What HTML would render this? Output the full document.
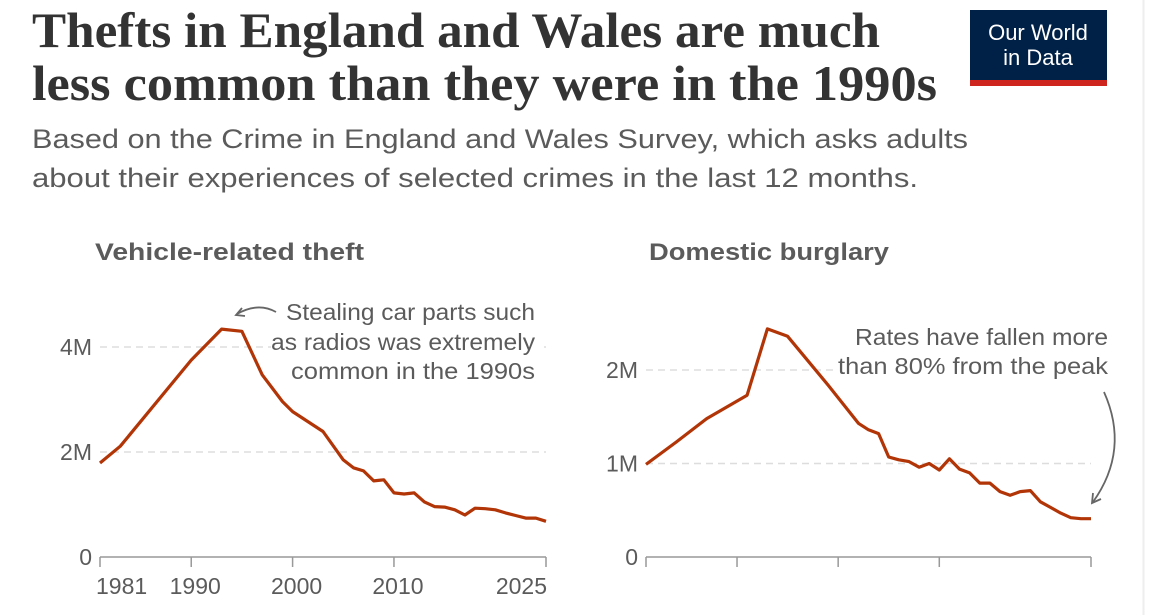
<!DOCTYPE html>
<html><head><meta charset="utf-8"><style>
body{margin:0;background:#fff;}
svg{display:block;font-family:"Liberation Sans",sans-serif;}
</style></head><body>
<svg width="1164" height="615" viewBox="0 0 1164 615">
<line x1="1143.5" y1="0" x2="1143.5" y2="615" stroke="#eeeeee" stroke-width="2"/>
<text x="32" y="47" font-family="Liberation Serif, serif" font-weight="bold" font-size="50" fill="#333" textLength="848" lengthAdjust="spacingAndGlyphs">Thefts in England and Wales are much</text>
<text x="32" y="100" font-family="Liberation Serif, serif" font-weight="bold" font-size="50" fill="#333" textLength="905" lengthAdjust="spacingAndGlyphs">less common than they were in the 1990s</text>
<text x="32" y="148" font-size="27" fill="#5b5b5b" textLength="936" lengthAdjust="spacingAndGlyphs">Based on the Crime in England and Wales Survey, which asks adults</text>
<text x="32" y="187" font-size="27" fill="#5b5b5b" textLength="886" lengthAdjust="spacingAndGlyphs">about their experiences of selected crimes in the last 12 months.</text>
<g>
<rect x="970" y="10" width="137" height="76" fill="#002147"/>
<rect x="970" y="80" width="137" height="6" fill="#ce261e"/>
<text x="1038" y="40" text-anchor="middle" fill="#fff" font-size="22">Our World</text>
<text x="1038" y="65" text-anchor="middle" fill="#fff" font-size="22">in Data</text>
</g>
<text x="95" y="260" font-size="24" font-weight="bold" fill="#5b5b5b" textLength="269" lengthAdjust="spacingAndGlyphs">Vehicle-related theft</text>
<text x="649" y="260" font-size="24" font-weight="bold" fill="#5b5b5b" textLength="240" lengthAdjust="spacingAndGlyphs">Domestic burglary</text>
<g id="left"></g>
<g id="right"></g>
<g font-size="23" fill="#5b5b5b">
<rect x="271" y="296" width="270" height="88" fill="#fff"/>
<text x="286" y="320" textLength="249" lengthAdjust="spacingAndGlyphs">Stealing car parts such</text>
<text x="271" y="350" textLength="264" lengthAdjust="spacingAndGlyphs">as radios was extremely</text>
<text x="291" y="379" textLength="244" lengthAdjust="spacingAndGlyphs">common in the 1990s</text>
</g>
<path d="M276,312 Q258,302 237,314" fill="none" stroke="#666" stroke-width="1.8"/>
<path d="M242,308 L236,315 L245,316" fill="none" stroke="#666" stroke-width="1.8"/>
<g font-size="23" fill="#5b5b5b">
<rect x="833" y="322" width="280" height="60" fill="#fff"/>
<text x="855" y="345" textLength="253" lengthAdjust="spacingAndGlyphs">Rates have fallen more</text>
<text x="838" y="374" textLength="270" lengthAdjust="spacingAndGlyphs">than 80% from the peak</text>
</g>
<path d="M1104,392 Q1130,450 1093,502" fill="none" stroke="#666" stroke-width="1.8"/>
<path d="M1093,493 L1092,503 L1101,499" fill="none" stroke="#666" stroke-width="1.8"/>
</svg>
<script>
const vehicleYears=[1981,1983,1990,1993,1995,1997,1999,2000,2003,2005,2006,2007,2008,2009,2010,2011,2012,2013,2014,2015,2016,2017,2018,2019,2020,2021,2022,2023,2024,2025];
const vehicleValues=[1.79,2.11,3.75,4.34,4.30,3.47,2.96,2.77,2.39,1.85,1.70,1.64,1.45,1.47,1.22,1.20,1.22,1.05,0.96,0.95,0.90,0.80,0.93,0.92,0.90,0.84,0.79,0.74,0.74,0.68];
const burglaryYears=[1981,1984,1987,1991,1993,1995,1999,2002,2003,2004,2005,2006,2007,2008,2009,2010,2011,2012,2013,2014,2015,2016,2017,2018,2019,2020,2021,2022,2023,2024,2025];
const burglaryValues=[0.99,1.23,1.48,1.73,2.44,2.36,1.84,1.43,1.36,1.32,1.07,1.04,1.02,0.96,1.00,0.93,1.05,0.94,0.90,0.79,0.79,0.70,0.66,0.70,0.71,0.59,0.53,0.47,0.42,0.41,0.41];
const xTickYears=[1981,1990,2000,2010,2025];
const xTickLabels=["1981","1990","2000","2010","2025"];
const leftYTicks=[0,2,4];
const leftYLabels=["0","2M","4M"];
const rightYTicks=[0,1,2];
const rightYLabels=["0","1M","2M"];
const NS="http://www.w3.org/2000/svg";
function mk(tag,attrs,parent){const e=document.createElementNS(NS,tag);for(const k in attrs)e.setAttribute(k,attrs[k]);parent.appendChild(e);return e;}
function panel(g,x0,x1,pxPerM,years,vals,yTicks,yLabels,showX,prefix){
  const y0=557;
  const sx=y=>x0+(y-1981)*(x1-x0)/(2025-1981);
  const sy=v=>y0-v*pxPerM;
  yTicks.forEach((t,i)=>{
    if(t>0){const l=mk('line',{x1:x0,x2:x1,y1:sy(t),y2:sy(t),stroke:'#dddddd','stroke-width':1.5,'stroke-dasharray':'7,5'},g);
      
      }
    const tx=mk('text',{x:x0-8,y:sy(t)+8,'text-anchor':'end','font-size':23,fill:'#5b5b5b'},g);
    tx.textContent=yLabels[i];
    
    
  });
  const ax=mk('line',{x1:x0,x2:x1,y1:y0,y2:y0,stroke:'#999','stroke-width':1.5},g);
  
  
  xTickYears.forEach((yr,i)=>{
    const tk=mk('line',{x1:sx(yr),x2:sx(yr),y1:y0,y2:y0+10,stroke:'#999','stroke-width':1.5},g);
    
    
    if(showX){
      let anchor='middle';if(i===0)anchor='start';if(i===xTickLabels.length-1)anchor='end';
      const tx=mk('text',{x:i===0?sx(yr)-4:(i===xTickLabels.length-1?sx(yr)+1:sx(yr)+4),y:594,'text-anchor':anchor,'font-size':23,fill:'#5b5b5b'},g);
      tx.textContent=xTickLabels[i];
      
      
    }
  });
  const d=years.map((y,i)=>(i?'L':'M')+sx(y).toFixed(1)+','+sy(vals[i]).toFixed(1)).join(' ');
  const p=mk('path',{d:d,fill:'none',stroke:'#b13507','stroke-width':3.2,'stroke-linejoin':'round'},g);
  
  
}
panel(document.getElementById('left'),100,546,52.5,vehicleYears,vehicleValues,leftYTicks,leftYLabels,true,'vehicle');
panel(document.getElementById('right'),646,1091,93.5,burglaryYears,burglaryValues,rightYTicks,rightYLabels,false,'burglary');
</script>
</body></html>
